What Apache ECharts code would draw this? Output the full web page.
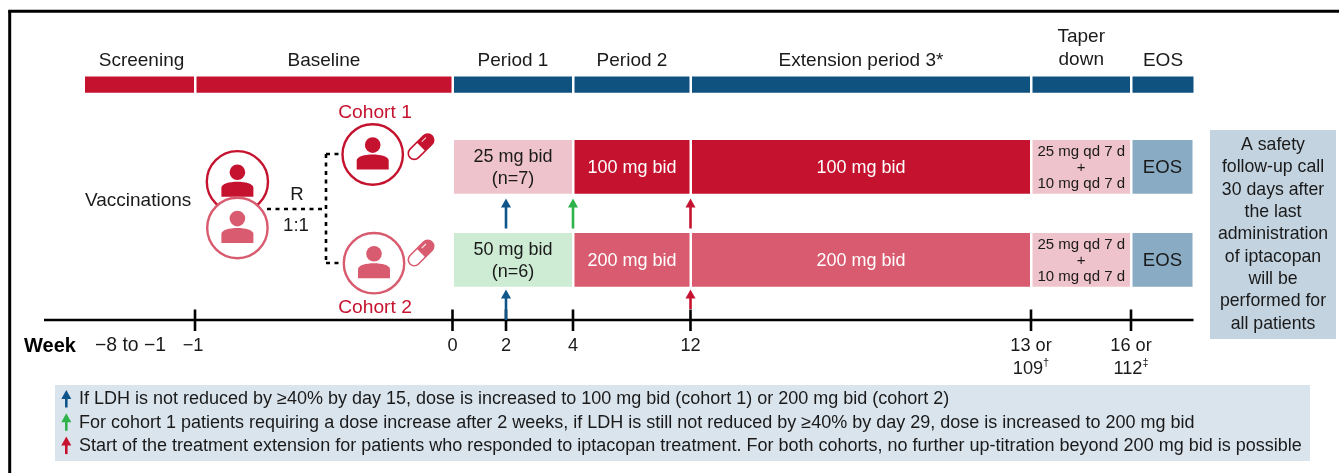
<!DOCTYPE html>
<html lang="en">
<head>
<meta charset="utf-8">
<title>Iptacopan study design</title>
<script src="https://cdn.jsdelivr.net/npm/echarts@6/dist/echarts.min.js"></script>
<style>
  html, body { margin: 0; padding: 0; background: #fff; }
  #main { width: 1339px; height: 473px; }
</style>
</head>
<body>
<div id="main"></div>
<script>
// study schedule
var phaseNames = ['Screening', 'Baseline', 'Period 1', 'Period 2', 'Extension period 3*', 'Taper\ndown', 'EOS'];
var phaseFrom = [-8, -1, 0, 4, 12, 13, 16];
var phaseTo = [-1, 0, 4, 12, 13, 16, 17];

var doseFrom = [0, 4, 12, 13, 16];
var doseTo = [4, 12, 13, 16, 17];
var cohort1Doses = ['25 mg bid\n(n=7)', '100 mg bid', '100 mg bid', '25 mg qd 7 d\n+\n10 mg qd 7 d', 'EOS'];
var cohort2Doses = ['50 mg bid\n(n=6)', '200 mg bid', '200 mg bid', '25 mg qd 7 d\n+\n10 mg qd 7 d', 'EOS'];

var weekTicks = [-1, 0, 2, 4, 12, 13, 16];
var weekTickLabels = ['\u22121', '0', '2', '4', '12', '13 or\n109{s|\u2020}', '16 or\n112{s|\u2021}'];

var cohort1ArrowWeeks = [2, 4, 12];
var cohort1ArrowKinds = ['blue', 'green', 'red'];
var cohort2ArrowWeeks = [2, 12];
var cohort2ArrowKinds = ['blue', 'red'];

var safetyLines = ['A safety', 'follow-up call', '30 days after', 'the last', 'administration', 'of iptacopan', 'will be', 'performed for', 'all patients'];
var legendKinds = ['blue', 'green', 'red'];
var legendNotes = [
    'If LDH is not reduced by \u226540% by day 15, dose is increased to 100 mg bid (cohort 1) or 200 mg bid (cohort 2)',
    'For cohort 1 patients requiring a dose increase after 2 weeks, if LDH is still not reduced by \u226540% by day 29, dose is increased to 200 mg bid',
    'Start of the treatment extension for patients who responded to iptacopan treatment. For both cohorts, no further up-titration beyond 200 mg bid is possible'
];

// colours
var RED = '#c5132f', ROSE = '#d95b6f', PINK = '#efc3cb', MINT = '#ceebd3', NAVY = '#10527f',
    STEEL = '#89abc3', MIST = '#c3d3e0', PALE = '#dae4ed', INK = '#1a1a1a';
var arrowColors = { blue: '#10558a', green: '#2db34a', red: RED };

// the timeline is not to scale, so every week gets its place on the hidden x axis
var weekPos = { '-8': 85, '-1': 195, '0': 452.5, '2': 506, '4': 573, '12': 690.5, '13': 1031, '16': 1131, '17': 1193.5 };

var bars = [];
function addBar(x0, x1, y0, y1, fill) {
    bars.push({ value: [x0, x1, y0, y1], fill: fill });
}
var labels = [];
function addLabel(text, x, y, size, fill, extra) {
    labels.push(Object.assign({ text: text, x: x, y: y, size: size, fill: fill || INK }, extra || {}));
}

// phase bars along the top
phaseNames.forEach(function (name, i) {
    var x0 = weekPos[phaseFrom[i]] + (i === 0 ? 0 : 1.5);
    var x1 = weekPos[phaseTo[i]] - (i === phaseNames.length - 1 ? 0 : 1);
    addBar(x0, x1, 76.5, 92.7, i < 2 ? RED : NAVY);
    var cy = 59.5;
    if (name.indexOf('\n') > -1) cy = 47.5;
    addLabel(name, (x0 + x1) / 2 + (i === 0 ? 2 : 0), cy, 19, INK, { lineHeight: 23 });
});

// treatment rows
function addDoseRow(doses, y0, y1, fills, colors) {
    doses.forEach(function (dose, i) {
        var x0 = weekPos[doseFrom[i]] + 1.5;
        var x1 = weekPos[doseTo[i]] - 1;
        addBar(x0, x1, y0, y1, fills[i]);
        var size = 18, lh = 22;
        if (i === 3) { size = 15; lh = 16; }
        if (i === 4) { size = 18.6; }
        addLabel(dose, (x0 + x1) / 2, (y0 + y1) / 2, size, colors[i], { lineHeight: lh });
    });
}
addDoseRow(cohort1Doses, 140, 193.7, [PINK, RED, RED, PINK, STEEL], [INK, '#fff', '#fff', INK, INK]);
addDoseRow(cohort2Doses, 233, 286.7, [MINT, ROSE, ROSE, PINK, STEEL], [INK, '#fff', '#fff', INK, INK]);

// side note and legend panel
addBar(1210, 1336, 130, 339, MIST);
safetyLines.forEach(function (line, i) {
    addLabel(line, 1273, 144 + i * 22.35, 17.7);
});
addBar(55, 1310, 385, 461, PALE);
legendNotes.forEach(function (note, i) {
    addLabel(note, 79, 398.5 + i * 23.4, 18, INK, { align: 'left' });
});

// loose texts
addLabel('Cohort 1', 375, 111.5, 19.2, RED);
addLabel('Cohort 2', 375, 306.5, 19.2, RED);
addLabel('Vaccinations', 85, 199.5, 19, INK, { align: 'left' });
addLabel('R', 297, 193.5, 18.6);
addLabel('1:1', 296, 224.5, 18.6);
addLabel('Week', 24, 345, 20, '#000', { align: 'left', weight: 'bold' });
addLabel('\u22128 to \u22121', 130.5, 345, 19.4);
weekTicks.forEach(function (week, i) {
    var two = weekTickLabels[i].indexOf('\n') > -1;
    addLabel(weekTickLabels[i], weekPos[week] + (week === -1 ? -2 : 0), two ? 356.5 : 345, 18.2, INK, { lineHeight: 23 });
});

// arrows, [x, tip y, tail y, colour kind]
var arrows = [];
cohort1ArrowWeeks.forEach(function (w, i) { arrows.push([weekPos[w], 198.5, 228.5, cohort1ArrowKinds[i]]); });
cohort2ArrowWeeks.forEach(function (w, i) { arrows.push([weekPos[w], 289.5, cohort2ArrowKinds[i] === 'red' ? 309 : 320, cohort2ArrowKinds[i]]); });
legendKinds.forEach(function (kind, i) { arrows.push([66.3, 390 + i * 23.3, 407.5 + i * 23.3, kind]); });

// straight lines, [x0, y0, x1, y1, width, dashed]
var lines = [
    [9.7, 11.2, 9.7, 473, 3, 0],
    [8.2, 11.2, 1339, 11.2, 3, 0],
    [44, 320, 1193.5, 320, 2.6, 0],
    [267, 209, 326, 209, 2.6, 1],
    [326, 154, 326, 263, 2.6, 1],
    [326, 154, 342, 154, 2.6, 1],
    [326, 263, 343, 263, 2.6, 1]
];
weekTicks.forEach(function (week) {
    lines.push([weekPos[week], 309.5, weekPos[week], 331, 2.6, 0]);
});

// people, [x, y, radius, colour, pill y or 0]
var people = [
    [237.4, 181.7, 30.6, RED, 0],
    [237.4, 228, 30.2, ROSE, 0],
    [372.7, 154.5, 30.2, RED, 146.7],
    [374, 263.2, 30.2, ROSE, 253]
];

function rowIdx(params) { return params.dataIndex; }

function drawBar(params, api) {
    var a = api.coord([api.value(0), api.value(2)]);
    var b = api.coord([api.value(1), api.value(3)]);
    return { type: 'rect', shape: { x: a[0], y: a[1], width: b[0] - a[0], height: b[1] - a[1] }, style: { fill: bars[rowIdx(params)].fill } };
}

function drawLine(params, api) {
    var l = lines[rowIdx(params)];
    var a = api.coord([l[0], l[1]]);
    var b = api.coord([l[2], l[3]]);
    return {
        type: 'line',
        shape: { x1: a[0], y1: a[1], x2: b[0], y2: b[1] },
        style: { stroke: '#000', lineWidth: l[4], lineDash: l[5] ? [4, 4.5] : null, fill: null }
    };
}

function drawArrow(params, api) {
    var d = arrows[rowIdx(params)];
    var tip = api.coord([d[0], d[1]]);
    var tail = api.coord([d[0], d[2]]);
    var c = arrowColors[d[3]];
    return {
        type: 'group',
        children: [
            { type: 'line', shape: { x1: tip[0], y1: tip[1] + 6, x2: tail[0], y2: tail[1] }, style: { stroke: c, lineWidth: 2.6 } },
            { type: 'polygon', shape: { points: [[tip[0], tip[1]], [tip[0] + 5, tip[1] + 9], [tip[0] - 5, tip[1] + 9]] }, style: { fill: c } }
        ]
    };
}

function drawPerson(params, api) {
    var d = people[rowIdx(params)];
    var p = api.coord([d[0], d[1]]);
    var x = p[0], y = p[1], c = d[3];
    var body = 'M' + (x - 16) + ' ' + (y + 15) + 'L' + (x - 16) + ' ' + (y + 6) +
        'C' + (x - 16) + ' ' + (y + 2) + ' ' + (x - 8) + ' ' + y + ' ' + x + ' ' + y +
        'C' + (x + 8) + ' ' + y + ' ' + (x + 16) + ' ' + (y + 2) + ' ' + (x + 16) + ' ' + (y + 6) +
        'L' + (x + 16) + ' ' + (y + 15) + 'Z';
    var kids = [
        { type: 'circle', shape: { cx: x, cy: y, r: d[2] }, style: { fill: '#fff', stroke: c, lineWidth: 2.4 } },
        { type: 'circle', shape: { cx: x, cy: y - 9.4, r: 7.8 }, style: { fill: c } },
        { type: 'path', shape: { pathData: body, x: x - 16, y: y, width: 32, height: 15 }, style: { fill: c } }
    ];
    if (d[4]) {
        var q = api.coord([421, d[4]]);
        kids.push({
            type: 'group', x: q[0], y: q[1], rotation: Math.PI / 4,
            children: [
                { type: 'rect', shape: { x: -15.5, y: -6, width: 31, height: 12, r: 6 }, style: { fill: '#fff', stroke: c, lineWidth: 1.6 } },
                { type: 'path', shape: { pathData: 'M0 -6L9.5 -6A6 6 0 0 1 9.5 6L0 6Z', x: 0, y: -6, width: 15.5, height: 12 }, style: { fill: c } },
                { type: 'line', shape: { x1: 4, y1: -3, x2: 10, y2: -3 }, style: { stroke: '#fff', lineWidth: 1 } }
            ]
        });
    }
    return { type: 'group', children: kids };
}

function drawLabel(params, api) {
    var d = labels[rowIdx(params)];
    // zrender centres on the line box, which sits about a pixel high for this font
    var p = api.coord([d.x, d.y + 1]);
    return {
        type: 'text',
        style: {
            x: p[0],
            y: p[1],
            text: d.text,
            fill: d.fill,
            font: (d.weight || 'normal') + ' ' + d.size + 'px "Liberation Sans", Arial, sans-serif',
            align: d.align || 'center',
            verticalAlign: 'middle',
            lineHeight: d.lineHeight || d.size * 1.2,
            rich: {
                s: { fontSize: 11, fill: d.fill, fontFamily: 'Liberation Sans', verticalAlign: 'top', lineHeight: 23, padding: [0, 0, 8, 0] }
            }
        }
    };
}

function layer(name, items, draw, z) {
    return {
        type: 'custom',
        name: name,
        coordinateSystem: 'cartesian2d',
        clip: false,
        silent: true,
        z: z,
        renderItem: draw,
        encode: { x: 0, y: 2 },
        data: items.map(function (it, i) { return it.value ? it.value : [i, i, i, i]; })
    };
}

var chart = echarts.init(document.getElementById('main'), null, { renderer: 'canvas' });
chart.setOption({
    animation: false,
    backgroundColor: '#fff',
    tooltip: { show: false },
    grid: { left: 0, top: 0, width: 1339, height: 473 },
    xAxis: { type: 'value', min: 0, max: 1339, show: false },
    yAxis: { type: 'value', min: 0, max: 473, inverse: true, show: false },
    series: [
        layer('bars', bars, drawBar, 2),
        layer('lines', lines, drawLine, 3),
        layer('people', people, drawPerson, 4),
        layer('arrows', arrows, drawArrow, 5),
        layer('labels', labels, drawLabel, 6)
    ]
});
</script>
</body>
</html>
